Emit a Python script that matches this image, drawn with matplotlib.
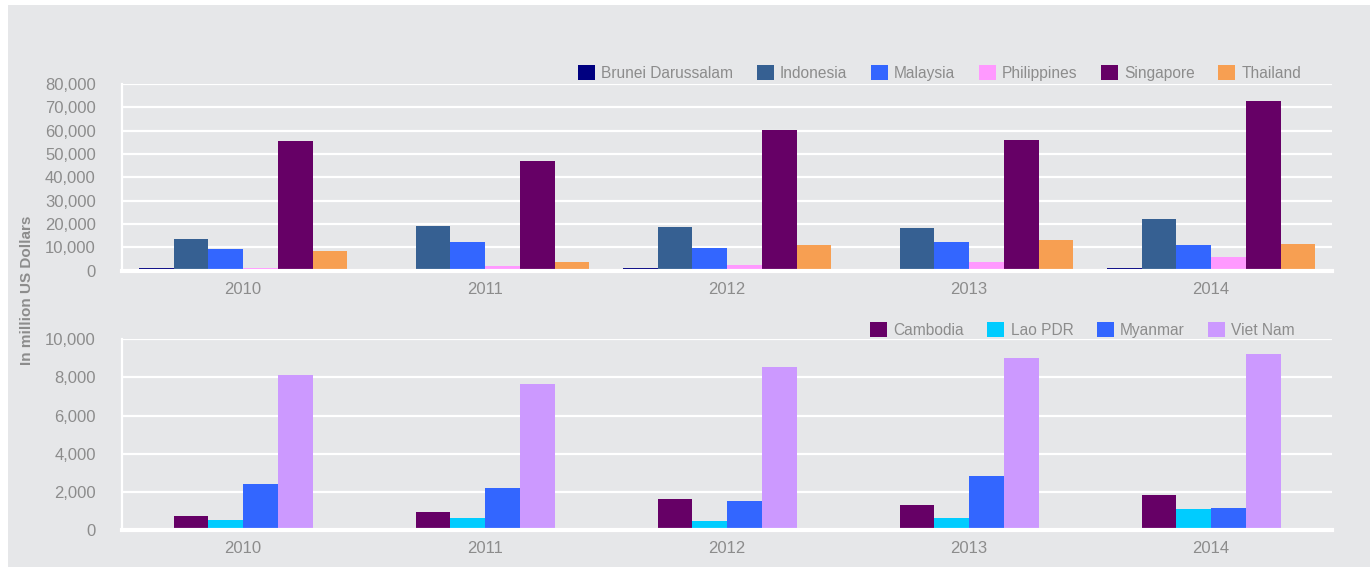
import numpy as np
import matplotlib.pyplot as plt
from matplotlib.patches import Rectangle

years = ['2010', '2011', '2012', '2013', '2014']

# FDI inflows, million US$
top_names = ['Brunei Darussalam', 'Indonesia', 'Malaysia', 'Philippines', 'Singapore', 'Thailand']
brunei = [1100, 700, 1000, 700, 1000]
indonesia = [13600, 19150, 18700, 18300, 22150]
malaysia = [9300, 12300, 9700, 12300, 11000]
philippines = [1100, 2000, 2400, 3700, 5900]
singapore = [55600, 47000, 60300, 56000, 72700]
thailand = [8400, 3700, 11000, 13150, 11400]
top_colors = ['#000080', '#366092', '#3366ff', '#ff99ff', '#660066', '#f79f52']

bottom_names = ['Cambodia', 'Lao PDR', 'Myanmar', 'Viet Nam']
cambodia = [740, 940, 1630, 1310, 1840]
lao = [530, 630, 470, 630, 1100]
myanmar = [2410, 2200, 1520, 2830, 1150]
vietnam = [8130, 7660, 8550, 9020, 9230]
bottom_colors = ['#660066', '#00ccff', '#3366ff', '#cc99ff']

bg = '#e6e7e9'
txt = '#8c8c8c'
plt.rcParams['font.family'] = ['Liberation Sans', 'DejaVu Sans']

fig = plt.figure(figsize=(13.7, 5.67), dpi=100, facecolor='white')
fig.patches.append(Rectangle((8 / 1370, 0), 1, 1 - 5 / 567, transform=fig.transFigure,
                             facecolor=bg, edgecolor='none', zorder=-10))

ax1 = fig.add_axes([0.0891, 0.5226, 0.8832, 0.3293])
ax2 = fig.add_axes([0.0891, 0.0653, 0.8832, 0.3363])

width = 0.1435
x = np.arange(len(years))


def style(ax, ymax, step):
    ax.set_facecolor(bg)
    ax.set_xlim(-0.5, len(years) - 0.5)
    ax.set_ylim(0, ymax)
    ticks = np.arange(0, ymax + 1, step)
    ax.set_yticks(ticks)
    ax.set_yticklabels([f'{int(v):,}' for v in ticks])
    ax.set_xticks(x)
    ax.set_xticklabels(years)
    ax.tick_params(length=0, labelsize=12, colors=txt)
    ax.tick_params(axis='y', pad=19)
    ax.tick_params(axis='x', pad=8)
    ax.grid(axis='y', color='white', linewidth=1.6)
    ax.set_axisbelow(True)
    for s in ['top', 'right']:
        ax.spines[s].set_visible(False)
    ax.spines['left'].set_color('white')
    ax.spines['left'].set_linewidth(1.6)
    ax.spines['bottom'].set_color('white')
    ax.spines['bottom'].set_linewidth(3)


top_series = [brunei, indonesia, malaysia, philippines, singapore, thailand]
n = len(top_series)
for i, (vals, name, c) in enumerate(zip(top_series, top_names, top_colors)):
    ax1.bar(x + (i - (n - 1) / 2) * width, vals, width, color=c, label=name, zorder=2)
style(ax1, 80000, 10000)

bottom_series = [cambodia, lao, myanmar, vietnam]
n = len(bottom_series)
for i, (vals, name, c) in enumerate(zip(bottom_series, bottom_names, bottom_colors)):
    ax2.bar(x + (i - (n - 1) / 2) * width, vals, width, color=c, label=name, zorder=2)
style(ax2, 10000, 2000)

leg_kw = dict(frameon=False, fontsize=11.2, labelcolor=txt, handlelength=1.1,
              handleheight=1.1, handletextpad=0.4, columnspacing=1.5,
              borderaxespad=0, borderpad=0)
ax1.legend(ncol=6, loc='center left', bbox_to_anchor=(578 / 1370, 1 - 73 / 567),
           bbox_transform=fig.transFigure, **leg_kw)
ax2.legend(ncol=4, loc='center left', bbox_to_anchor=(870 / 1370, 1 - 330 / 567),
           bbox_transform=fig.transFigure, **leg_kw)

fig.text(27 / 1370, 1 - 290 / 567, 'In million US Dollars', rotation=90, ha='center',
         va='center', fontsize=11, fontweight='bold', color=txt)

fig.savefig('out.png', dpi=100, facecolor=fig.get_facecolor())
